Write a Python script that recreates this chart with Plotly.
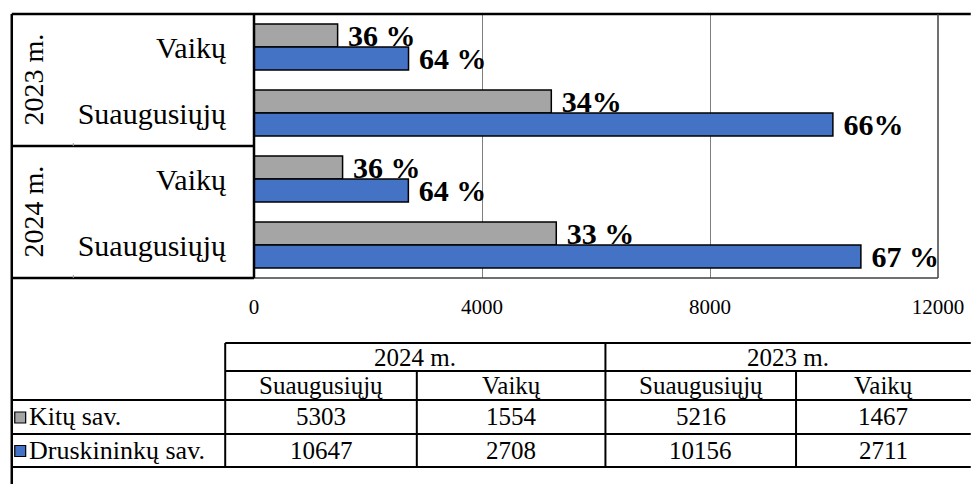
import plotly.graph_objects as go

# ---------------- data ----------------
years = ["2024 m.", "2023 m."]
groups = ["Suaugusiųjų", "Vaikų"]
series_names = ["Kitų sav.", "Druskininkų sav."]
# order: 2024 Suaugusiųjų, 2024 Vaikų, 2023 Suaugusiųjų, 2023 Vaikų
kitu = [5303, 1554, 5216, 1467]
druskininku = [10647, 2708, 10156, 2711]
kitu_pct = ["33 %", "36 %", "34%", "36 %"]
druskininku_pct = ["67 %", "64 %", "66%", "64 %"]
x_ticks = [0, 4000, 8000, 12000]

cats = [f"{y} {g}" for y in years for g in groups]
cat_labels = [g for y in years for g in groups]
cat_order = list(reversed(cats))  # top to bottom

GRAY = "#A5A5A5"
BLUE = "#4472C4"
FONT = "Liberation Serif, Times New Roman, serif"

W, H = 976, 484
L, R, T, B = 254, 943, 14, 278  # plot area in pixels

fig = go.Figure()
for vals, pct, col, name in [(kitu, kitu_pct, GRAY, series_names[0]),
                             (druskininku, druskininku_pct, BLUE, series_names[1])]:
    fig.add_trace(go.Bar(
        y=cats, x=vals, orientation="h", name=name,
        marker=dict(color=col, line=dict(color="black", width=1.5)),
        text=pct, texttemplate="\u00a0%{text}",
        textposition="outside", constraintext="none", cliponaxis=False,
        textfont=dict(family=FONT, size=30, color="black", weight="bold"),
    ))

def px(x):
    return (x - L) / (R - L)

def py(y):
    return (B - y) / (B - T)

shapes = []
def line(x0, y0, x1, y1, w=2, c="black"):
    shapes.append(dict(type="line", xref="paper", yref="paper",
                       x0=px(x0), y0=py(y0), x1=px(x1), y1=py(y1),
                       line=dict(color=c, width=w), layer="above"))

# plot border
line(10, T, 976, T, 2.5)
line(R, T, R, B, 1.5, "#404040")
line(L, B, R, B, 1.5, "#404040")
# left category box
line(10, T, 10, 484, 2.5)
line(L, T, L, B, 2.5)
line(10, 146, L, 146, 2.5)
line(10, B, L, B, 2.5)
# small category separators
line(72, 143, 72, 146, 1, "#a0a0a0")
line(72, 275, 72, 278, 1, "#a0a0a0")

# table lines
rows_y = [343, 371, 400, 434, 467]
col_x = [10, 225, 418, 608, 800, 976]
line(225, rows_y[0], 976, rows_y[0])
line(225, rows_y[1], 976, rows_y[1])
for yy in rows_y[2:]:
    line(10, yy, 976, yy)
line(225, rows_y[0], 225, rows_y[4])
line(608, rows_y[0], 608, rows_y[4])
line(418, rows_y[1], 418, rows_y[4])
line(800, rows_y[1], 800, rows_y[4])

annotations = []
def text(x, y, s, size=25, angle=0, xanchor="center", bold=False):
    annotations.append(dict(xref="paper", yref="paper", x=px(x), y=py(y), text=s,
                            showarrow=False, xanchor=xanchor, yanchor="middle",
                            textangle=angle,
                            font=dict(family=FONT, size=size, color="black",
                                      weight="bold" if bold else "normal")))

# rotated year labels
text(31, 80, years[1], size=28, angle=-90)
text(31, 212, years[0], size=28, angle=-90)

# table header
row_c = [(rows_y[i] + rows_y[i + 1]) / 2 for i in range(4)]
text((col_x[1] + col_x[3]) / 2, row_c[0], years[0])
text((col_x[3] + col_x[5]) / 2, row_c[0], years[1])
for i in range(4):
    text((col_x[i + 1] + col_x[i + 2]) / 2, row_c[1], groups[i % 2])
    text((col_x[i + 1] + col_x[i + 2]) / 2, row_c[2], str(kitu[i]))
    text((col_x[i + 1] + col_x[i + 2]) / 2, row_c[3], str(druskininku[i]))

# legend keys in table
for r, col, name in [(2, GRAY, series_names[0]), (3, BLUE, series_names[1])]:
    shapes.append(dict(type="rect", xref="paper", yref="paper",
                       x0=px(13), x1=px(24), y0=py(row_c[r] + 6), y1=py(row_c[r] - 5),
                       fillcolor=col, line=dict(color="black", width=1.2), layer="above"))
    text(25, row_c[r], name, size=26, xanchor="left")

fig.update_layout(
    width=W, height=H,
    margin=dict(l=L, r=W - R, t=T, b=H - B, pad=0),
    paper_bgcolor="white", plot_bgcolor="white",
    barmode="group", bargap=0.3, bargroupgap=0,
    showlegend=False,
    shapes=shapes, annotations=annotations,
    font=dict(family=FONT, color="black"),
    xaxis=dict(range=[0, 12000], tickvals=x_ticks, ticktext=[str(v) for v in x_ticks],
               showgrid=True, gridcolor="#7f7f7f", gridwidth=1, zeroline=False,
               showline=False, ticks="", ticklabelstandoff=14,
               tickfont=dict(family=FONT, size=21, color="black")),
    yaxis=dict(categoryorder="array", categoryarray=cat_order, autorange="reversed",
               tickvals=cats, ticktext=cat_labels, showgrid=False, zeroline=False,
               showline=False, ticks="", ticklabelstandoff=27,
               tickfont=dict(family=FONT, size=30, color="black")),
)

fig.write_html("out.html", config={"displayModeBar": False},
               post_script="document.body.style.margin='0';")
